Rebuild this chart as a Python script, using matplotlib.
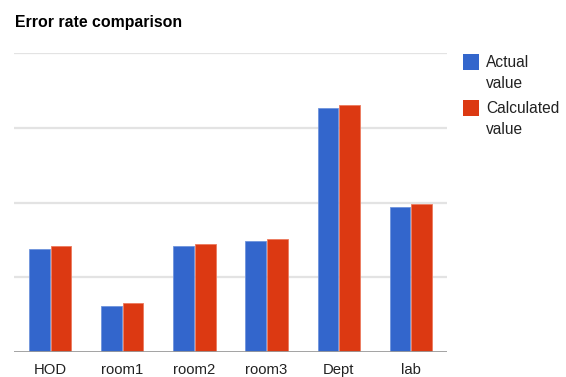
import matplotlib
matplotlib.use("Agg")
import matplotlib.pyplot as plt
from matplotlib.patches import Rectangle
import numpy as np

# data (grid step = 10)
categories = ["HOD", "room1", "room2", "room3", "Dept", "lab"]
actual = [13.8, 6.2, 14.2, 14.8, 32.7, 19.4]
calculated = [14.2, 6.5, 14.4, 15.1, 33.0, 19.8]
series_names = ["Actual\nvalue", "Calculated\nvalue"]
colors = ["#3366CC", "#DC3912"]

plt.rcParams["font.family"] = ["Liberation Sans", "DejaVu Sans"]

W, H = 566, 377
fig = plt.figure(figsize=(W / 100, H / 100), dpi=100)
ax = fig.add_axes([14 / W, (H - 352) / H, (447 - 14) / W, (352 - 53) / H])

x = np.arange(len(categories))
bw = 0.285
ax.bar(x - 0.15, actual, width=bw, color=colors[0], edgecolor="#6f93dc", linewidth=0.6, zorder=3)
ax.bar(x + 0.15, calculated, width=bw, color=colors[1], edgecolor="#ec7a5e", linewidth=0.6, zorder=3)

ax.set_xlim(-0.5, len(categories) - 0.5)
ax.set_ylim(0, 40)
for g in [10, 20, 30, 40]:
    ax.axhline(g, color="#e3e3e3", linewidth=1.6, zorder=1)
ax.axhline(0, color="#9a9a9a", linewidth=2, zorder=4)

for s in ax.spines.values():
    s.set_visible(False)
ax.set_yticks([])
ax.set_xticks(x)
ax.set_xticklabels(categories, fontsize=10.7, color="#222222")
ax.tick_params(axis="x", length=0, pad=8)

# title
fig.text(15 / W, 1 - 22 / H, "Error rate comparison", fontsize=11.4,
         fontweight="bold", color="#000000", va="center", ha="left")

# legend on the right, square next to the first line of each label
legend_tops = [54, 100]
for name, col, top in zip(series_names, colors, legend_tops):
    fig.add_artist(Rectangle((463 / W, 1 - (top + 15.5) / H), 16 / W, 15.5 / H,
                             transform=fig.transFigure, facecolor=col,
                             edgecolor=col, linewidth=0))
    for i, line in enumerate(name.split("\n")):
        fig.text(486 / W, 1 - (top + 8.5 + i * 21) / H, line, fontsize=11.2,
                 color="#222222", va="center", ha="left")

fig.savefig("out.png", dpi=100)
